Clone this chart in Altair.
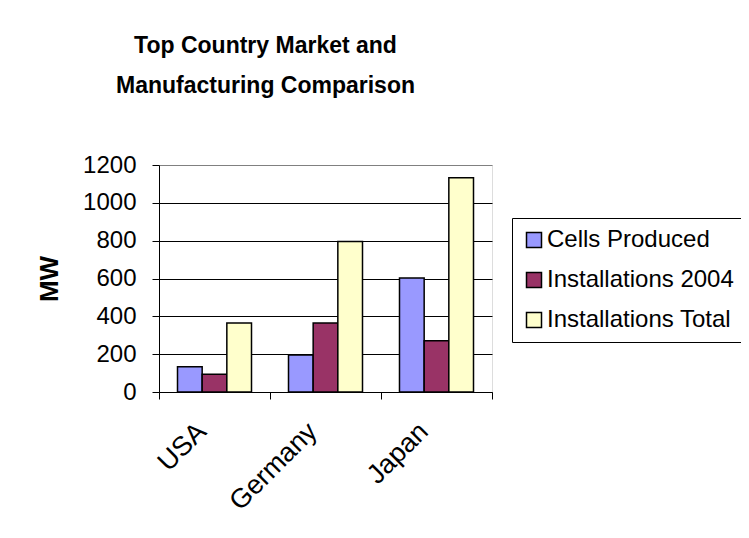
import altair as alt
import pandas as pd

countries = ["USA", "Germany", "Japan"]
series = ["Cells Produced", "Installations 2004", "Installations Total"]
cells_produced = [134, 196, 603]
installations_2004 = [94, 365, 271]
installations_total = [365, 795, 1133]
colors = ["#9999FF", "#993366", "#FFFFCC"]
y_ticks = [0, 200, 400, 600, 800, 1000, 1200]
title_lines = ["Top Country Market and", "Manufacturing Comparison"]

rows = []
for i, c in enumerate(countries):
    for s, vals in zip(series, [cells_produced, installations_2004, installations_total]):
        rows.append({"country": c, "series": s, "value": vals[i]})
df = pd.DataFrame(rows)

FONT = "Liberation Sans"

chart = alt.Chart(df).mark_bar(stroke="black", strokeWidth=1.5).encode(
    x=alt.X(
        "country:N",
        sort=countries,
        scale=alt.Scale(paddingInner=0, paddingOuter=0),
        axis=alt.Axis(
            title=None, labelAngle=-45, labelAlign="right", labelBaseline="middle",
            labelFontSize=27, labelPadding=28, labelOffset=-13, tickBand="extent", tickSize=7,
            domainColor="black", tickColor="black", labelColor="black", grid=False,
            labelFont=FONT,
        ),
    ),
    xOffset=alt.XOffset("series:N", sort=series,
                        scale=alt.Scale(paddingInner=0, paddingOuter=0.75)),
    y=alt.Y(
        "value:Q",
        scale=alt.Scale(domain=[0, 1200]),
        axis=alt.Axis(
            values=y_ticks, format="d", title="MW", titleFontSize=26, titleFontWeight="bold",
            titlePadding=20, titleColor="black", titleFont=FONT,
            labelFontSize=24, labelPadding=16, labelColor="black", labelFont=FONT,
            tickSize=7, tickColor="black", domainColor="black",
            gridColor=alt.condition("datum.value == 1200", alt.value("#808080"), alt.value("black")),
            gridOpacity=1,
        ),
    ),
    color=alt.Color(
        "series:N", sort=series,
        scale=alt.Scale(domain=series, range=colors),
        legend=alt.Legend(
            title=None, orient="none", legendX=353, legendY=53,
            fillColor="white", strokeColor="black", padding=10,
            symbolType="square", symbolSize=225, symbolStrokeColor="black",
            symbolStrokeWidth=1.5, symbolOpacity=1,
            labelFontSize=24, labelOffset=1, rowPadding=16, labelFont=FONT,
            labelColor="black", labelLimit=400,
        ),
    ),
).properties(
    width=333,
    height=227,
    title=alt.Title(
        title_lines, fontSize=23, font=FONT, fontWeight="bold",
        lineHeight=40, anchor="middle", dx=-60, offset=55, color="black",
    ),
    autosize=alt.AutoSizeParams(type="none"),
    padding={"left": 151, "top": 157, "right": 249, "bottom": 138},
).configure_view(
    fill="#C0C0C0", stroke="#808080", strokeWidth=1
).configure(
    background="white", font=FONT
)

chart.save("out.html", embed_options={"renderer": "svg", "actions": False})
